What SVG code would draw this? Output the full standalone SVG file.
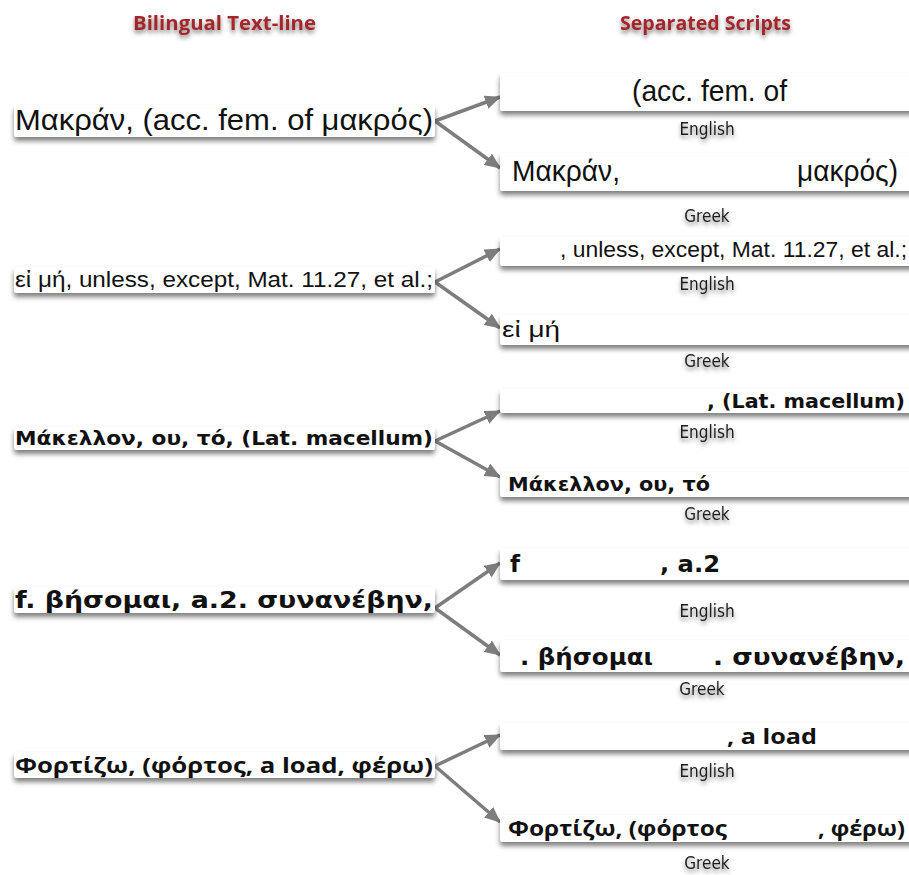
<svg xmlns="http://www.w3.org/2000/svg" width="909" height="875" viewBox="0 0 909 875">
<defs>
  <filter id="boxShadow" x="-5%" y="-40%" width="110%" height="220%">
    <feDropShadow dx="0" dy="4" stdDeviation="2.8" flood-color="#000" flood-opacity="0.5"/>
  </filter>
  <filter id="textShadow" x="-20%" y="-40%" width="140%" height="200%">
    <feDropShadow dx="0" dy="3" stdDeviation="2" flood-color="#000" flood-opacity="0.5"/>
  </filter>
  <marker id="arrow" markerUnits="userSpaceOnUse" markerWidth="16" markerHeight="14" refX="15" refY="7" orient="auto">
    <path d="M0,0 L16,7 L0,14 Z" fill="#7d7d7d"/>
  </marker>
</defs>
<style>
  .box { fill: #ffffff; filter: url(#boxShadow); }
  .title { font-family: "Open Sans", "Liberation Sans", sans-serif; font-weight: bold; font-size: 19px; fill: #a3262a; filter: url(#textShadow); }
  .lab { font-family: "Liberation Sans Narrow", "DejaVu Sans Condensed", "Liberation Sans", sans-serif; font-size: 17px; fill: #1e1e1e; filter: url(#textShadow); }
  .r1 { font-family: "Liberation Sans", "DejaVu Sans", sans-serif; font-size: 29px; fill: #111; }
  .r2 { font-family: "Liberation Sans", "DejaVu Sans", sans-serif; font-size: 22px; fill: #111; }
  .r3 { font-family: "DejaVu Sans", "Liberation Sans", sans-serif; font-weight: bold; font-size: 19px; fill: #111; }
  .r4 { font-family: "DejaVu Sans", "Liberation Sans", sans-serif; font-weight: bold; font-size: 23px; fill: #111; }
  .r5 { font-family: "Open Sans", "Noto Sans", sans-serif; font-weight: bold; font-size: 22px; fill: #111; }
  .conn { stroke: #7d7d7d; stroke-width: 3.5; fill: none; marker-end: url(#arrow); }
</style>
<rect width="909" height="875" fill="#ffffff"/>

<g id="titles">
  <text class="title" x="133" y="30" textLength="183" lengthAdjust="spacingAndGlyphs">Bilingual Text-line</text>
  <text class="title" x="620" y="30" textLength="171" lengthAdjust="spacingAndGlyphs">Separated Scripts</text>
</g>

<g id="connectors">
  <path class="conn" d="M435,121 L500,97"/>
  <path class="conn" d="M435,121 L500,168"/>
  <path class="conn" d="M435,282 L500,249"/>
  <path class="conn" d="M435,282 L500,328"/>
  <path class="conn" d="M435,441 L500,411"/>
  <path class="conn" d="M435,441 L500,477"/>
  <path class="conn" d="M435,608 L500,563"/>
  <path class="conn" d="M435,608 L500,655"/>
  <path class="conn" d="M435,766 L500,735"/>
  <path class="conn" d="M435,766 L500,822"/>
</g>

<!-- Row 1 -->
<g id="line1">
  <rect class="box" x="14" y="105" width="421" height="32" rx="3"/>
  <text class="r1" x="15" y="130" textLength="418" lengthAdjust="spacingAndGlyphs">Μακράν, (acc. fem. of μακρός)</text>
</g>
<g id="line1-english">
  <rect class="box" x="500" y="73" width="420" height="38" rx="3"/>
  <text class="r1" x="632" y="101" textLength="155" lengthAdjust="spacingAndGlyphs">(acc. fem. of</text>
  <text class="lab" x="707" y="135" text-anchor="middle">English</text>
</g>
<g id="line1-greek">
  <rect class="box" x="500" y="153" width="420" height="38" rx="3"/>
  <text class="r1" x="512" y="181" textLength="108" lengthAdjust="spacingAndGlyphs">Μακράν,</text>
  <text class="r1" x="797" y="181" textLength="101" lengthAdjust="spacingAndGlyphs">μακρός)</text>
  <text class="lab" x="707" y="222" text-anchor="middle">Greek</text>
</g>

<!-- Row 2 -->
<g id="line2">
  <rect class="box" x="14" y="267" width="421" height="26" rx="3"/>
  <text class="r2" x="15" y="287" textLength="418" lengthAdjust="spacingAndGlyphs">εἰ μή, unless, except, Mat. 11.27, et al.;</text>
</g>
<g id="line2-english">
  <rect class="box" x="500" y="237" width="420" height="29" rx="3"/>
  <text class="r2" x="560" y="257" textLength="347" lengthAdjust="spacingAndGlyphs">, unless, except, Mat. 11.27, et al.;</text>
  <text class="lab" x="707" y="290" text-anchor="middle">English</text>
</g>
<g id="line2-greek">
  <rect class="box" x="500" y="315" width="420" height="30" rx="3"/>
  <text class="r2" x="502" y="337" textLength="58" lengthAdjust="spacingAndGlyphs">εἰ μή</text>
  <text class="lab" x="707" y="367" text-anchor="middle">Greek</text>
</g>

<!-- Row 3 -->
<g id="line3">
  <rect class="box" x="14" y="427" width="421" height="23" rx="3"/>
  <text class="r3" x="15" y="445" textLength="418" lengthAdjust="spacingAndGlyphs">Μάκελλον, ου, τό, (Lat. macellum)</text>
</g>
<g id="line3-english">
  <rect class="box" x="500" y="389" width="420" height="24" rx="3"/>
  <text class="r3" x="707" y="408" textLength="198" lengthAdjust="spacingAndGlyphs">, (Lat. macellum)</text>
  <text class="lab" x="707" y="438" text-anchor="middle">English</text>
</g>
<g id="line3-greek">
  <rect class="box" x="500" y="472" width="420" height="25" rx="3"/>
  <text class="r3" x="508" y="491" textLength="202" lengthAdjust="spacingAndGlyphs">Μάκελλον, ου, τό</text>
  <text class="lab" x="707" y="520" text-anchor="middle">Greek</text>
</g>

<!-- Row 4 -->
<g id="line4">
  <rect class="box" x="14" y="587" width="421" height="26" rx="3"/>
  <text class="r4" x="15" y="608" textLength="418" lengthAdjust="spacingAndGlyphs">f. βήσομαι, a.2. συνανέβην,</text>
</g>
<g id="line4-english">
  <rect class="box" x="500" y="548" width="420" height="32" rx="3"/>
  <text class="r4" x="510" y="572">f</text>
  <text class="r4" x="660" y="572" textLength="60" lengthAdjust="spacingAndGlyphs">, a.2</text>
  <text class="lab" x="707" y="617" text-anchor="middle">English</text>
</g>
<g id="line4-greek">
  <rect class="box" x="500" y="640" width="420" height="32" rx="3"/>
  <text class="r4" x="520" y="665" textLength="133" lengthAdjust="spacingAndGlyphs">. βήσομαι</text>
  <text class="r4" x="713" y="665" textLength="192" lengthAdjust="spacingAndGlyphs">. συνανέβην,</text>
  <text class="lab" x="702" y="695" text-anchor="middle">Greek</text>
</g>

<!-- Row 5 -->
<g id="line5">
  <rect class="box" x="14" y="752" width="421" height="26" rx="3"/>
  <text class="r5" x="15" y="773" textLength="418" lengthAdjust="spacingAndGlyphs">Φορτίζω, (φόρτος, a load, φέρω)</text>
</g>
<g id="line5-english">
  <rect class="box" x="500" y="723" width="420" height="27" rx="3"/>
  <text class="r5" x="727" y="744" textLength="90" lengthAdjust="spacingAndGlyphs">, a load</text>
  <text class="lab" x="707" y="777" text-anchor="middle">English</text>
</g>
<g id="line5-greek">
  <rect class="box" x="500" y="815" width="420" height="27" rx="3"/>
  <text class="r5" x="508" y="836" textLength="219" lengthAdjust="spacingAndGlyphs">Φορτίζω, (φόρτος</text>
  <text class="r5" x="818" y="836" textLength="87" lengthAdjust="spacingAndGlyphs">, φέρω)</text>
  <text class="lab" x="707" y="869" text-anchor="middle">Greek</text>
</g>
</svg>
